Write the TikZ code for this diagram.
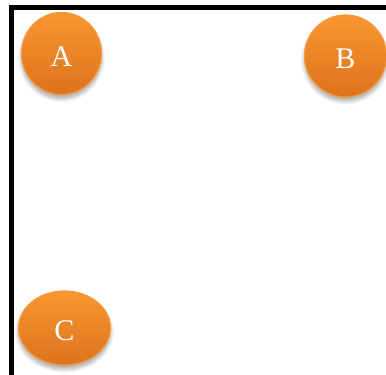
\documentclass[tikz,border=0pt]{standalone}
\usepackage{fontspec}
\setmainfont{Liberation Serif}
\usetikzlibrary{shadows.blur,shapes.geometric}
\definecolor{orangetop}{HTML}{F9972F}
\definecolor{orangebot}{HTML}{DC731E}
\definecolor{orangerim}{HTML}{F7963A}
\tikzset{
  ball/.style={ellipse, draw=orangerim, line width=1.2pt,
    top color=orangetop, bottom color=orangebot,
    text=white, font=\fontsize{30}{30}\selectfont,
    inner sep=0pt, text height=25pt, text depth=0pt,
    blur shadow={shadow xshift=0pt, shadow yshift=-4pt, shadow blur steps=8,
      shadow opacity=35, shadow blur radius=4pt}},
  frame/.style={line width=5pt, black}
}
\begin{document}
\begin{tikzpicture}[x=1pt, y=-1pt]
  \useasboundingbox (0,0) rectangle (386,375);
  % frame edges
  \coordinate (tl) at (11.5,7.5);
  \coordinate (tr) at (386,7.5);
  \coordinate (bl) at (11.5,375);
  \draw[frame] (bl) -- (tl) -- (tr);
  % nodes
  \node[ball, minimum width=80pt, minimum height=82pt] (A) at (61.5,53.5) {A};
  \node[ball, minimum width=82pt, minimum height=82pt] (B) at (345.5,56) {B};
  \node[ball, minimum width=92pt, minimum height=74pt] (C) at (64.5,328) {C};
\end{tikzpicture}
\end{document}
